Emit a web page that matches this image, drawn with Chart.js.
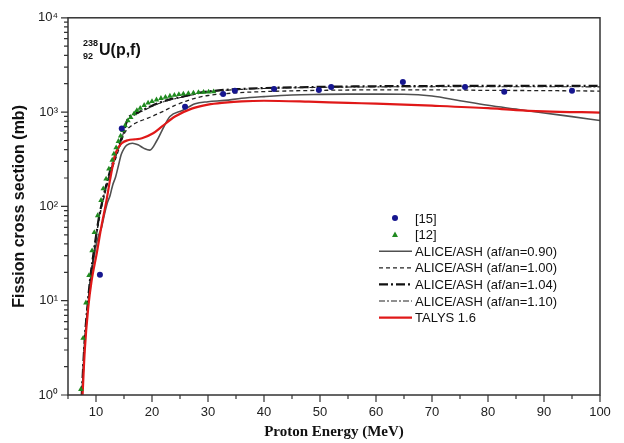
<!DOCTYPE html>
<html>
<head>
<meta charset="utf-8">
<script src="https://cdn.jsdelivr.net/npm/chart.js@4.4.1/dist/chart.umd.min.js"></script>
<style>
  html, body { margin: 0; padding: 0; background: #fff; }
  #wrap { width: 624px; height: 443px; }
</style>
</head>
<body>
<div id="wrap"><canvas id="fission-chart" width="624" height="443"></canvas></div>
<script>
// experimental points, [15]
const exp15Energy = [10.7, 14.6, 25.9, 32.7, 34.8, 41.8, 49.8, 52.0, 64.8, 75.9, 82.9, 95.0];
const exp15Sigma = [18.9, 670, 1140, 1560, 1680, 1760, 1720, 1850, 2080, 1850, 1640, 1680];

// experimental points, [12]
const exp12Energy = [7.3, 7.7, 8.2, 8.75, 9.3, 9.7, 10.3, 10.9, 11.3, 11.8, 12.3, 12.9, 13.2, 13.6, 14.0, 14.4, 14.8, 15.2, 15.7, 16.2, 16.8, 17.3, 17.9, 18.6, 19.3, 20.0, 20.8, 21.6, 22.4, 23.2, 24.0, 24.8, 25.6, 26.5, 27.4, 28.3, 29.2, 30.1, 31.0];
const exp12Sigma = [1.15, 4.0, 9.5, 18.5, 34, 53, 80, 116, 154, 196, 250, 310, 360, 420, 490, 560, 640, 720, 810, 880, 960, 1040, 1100, 1180, 1250, 1300, 1350, 1400, 1440, 1480, 1510, 1540, 1560, 1580, 1600, 1620, 1630, 1640, 1650];

// ALICE/ASH af/an = 0.90
const alice090Energy = [7.5, 8, 8.5, 9, 9.5, 10, 10.5, 11, 11.5, 12, 12.5, 13, 13.5, 14, 14.5, 15, 15.5, 16.5, 17.5, 18.5, 19.6, 20.9, 21.8, 23.2, 25.4, 27.7, 30, 33, 36, 40, 45, 50, 55, 60, 65, 70, 75, 80, 85, 90, 95, 100];
const alice090Sigma = [1.0, 3.5, 8, 15, 25, 38, 50, 60, 82, 108, 130, 170, 205, 270, 355, 410, 446, 468, 450, 415, 395, 503, 640, 897, 1038, 1228, 1290, 1330, 1400, 1460, 1520, 1540, 1550, 1550, 1545, 1480, 1320, 1180, 1075, 980, 895, 815];

// ALICE/ASH af/an = 1.00
const alice100Energy = [7.5, 8, 8.5, 9, 9.5, 10, 10.5, 11, 11.5, 12, 12.5, 13, 13.5, 14, 14.5, 15, 16.5, 18.5, 20, 22, 24, 26, 28, 30, 35, 40, 50, 60, 70, 80, 90, 100];
const alice100Sigma = [1.0, 3.8, 8.5, 16, 28, 46, 70, 98, 130, 170, 215, 265, 320, 390, 480, 585, 730, 830, 900, 1020, 1170, 1300, 1420, 1500, 1600, 1650, 1700, 1720, 1720, 1700, 1690, 1670];

// ALICE/ASH af/an = 1.04
const alice104Energy = [7.45, 8, 8.5, 9, 9.5, 10, 10.5, 11, 11.5, 12, 12.5, 13, 13.5, 14, 14.5, 15, 15.7, 17, 18.2, 20, 21.8, 23.5, 25.4, 27.5, 29.5, 33, 36, 40, 50, 60, 70, 80, 90, 100];
const alice104Sigma = [1.0, 4, 9, 18, 30, 48, 75, 105, 140, 185, 235, 290, 350, 420, 520, 640, 853, 960, 1038, 1170, 1288, 1380, 1453, 1560, 1640, 1721, 1760, 1800, 1850, 1880, 1890, 1900, 1900, 1900];

// ALICE/ASH af/an = 1.10
const alice110Energy = [7.45, 8, 8.5, 9, 9.5, 10, 10.5, 11, 11.5, 12, 12.5, 13, 13.5, 14, 14.5, 15, 15.7, 17, 18.2, 20, 21.8, 23.5, 25.4, 27.5, 29.5, 33, 36, 40, 50, 60, 70, 80, 90, 100];
const alice110Sigma = [1.0, 4, 9, 17.5, 29, 47, 73, 103, 138, 182, 232, 285, 345, 415, 510, 625, 830, 940, 1020, 1150, 1270, 1360, 1440, 1540, 1620, 1700, 1740, 1780, 1830, 1850, 1860, 1860, 1860, 1850];

// TALYS 1.6
const talysEnergy = [7.6, 8, 8.6, 9.2, 10.1, 11, 11.9, 12.5, 13.4, 14, 14.6, 15.7, 17, 18.2, 20.2, 21.8, 24.1, 27.1, 30, 33, 36, 40, 48, 55, 60, 70, 80, 85, 90, 100];
const talysSigma = [1.0, 3.0, 8.3, 16, 31, 63, 118, 190, 350, 420, 468, 503, 515, 528, 596, 705, 897, 1088, 1199, 1259, 1300, 1320, 1290, 1250, 1230, 1170, 1100, 1050, 1020, 988];

const legendLabels = ['[15]', '[12]', 'ALICE/ASH (af/an=0.90)', 'ALICE/ASH (af/an=1.00)', 'ALICE/ASH (af/an=1.04)', 'ALICE/ASH (af/an=1.10)', 'TALYS 1.6'];
const yTickLabels = { 1: '10\u2070', 10: '10\u00b9', 100: '10\u00b2', 1000: '10\u00b3', 10000: '10\u2074' };

const pairs = (xs, ys) => xs.map((x, i) => ({ x, y: ys[i] }));

function lineSet(label, xs, ys, color, width, dash, order) {
  return {
    label,
    data: pairs(xs, ys),
    showLine: true,
    borderColor: color,
    backgroundColor: color,
    borderWidth: width,
    borderDash: dash,
    pointRadius: 0,
    cubicInterpolationMode: 'monotone',
    order
  };
}

// ticks, frame, legend and the nuclide label
const decorPlugin = {
  id: 'decor',
  afterDraw(chart) {
    const { ctx, chartArea: a, scales } = chart;
    const xs = scales.x, ys = scales.y;
    ctx.save();
    ctx.strokeStyle = '#333';
    ctx.lineWidth = 1.5;
    ctx.strokeRect(a.left, a.top, a.right - a.left, a.bottom - a.top);

    ctx.lineWidth = 1.2;
    ctx.beginPath();
    for (let d = 0; d < 4; d++) {
      for (let m = 1; m <= 9; m++) {
        const py = ys.getPixelForValue(m * Math.pow(10, d));
        const len = m === 1 ? 7 : 4;
        ctx.moveTo(a.left, py);
        ctx.lineTo(a.left - len, py);
      }
    }
    const top = ys.getPixelForValue(10000);
    ctx.moveTo(a.left, top);
    ctx.lineTo(a.left - 7, top);
    for (let v = 5; v <= 100; v += 5) {
      const px = xs.getPixelForValue(v);
      const len = v % 10 === 0 ? 7 : 4;
      ctx.moveTo(px, a.bottom);
      ctx.lineTo(px, a.bottom + len);
    }
    ctx.stroke();

    // legend
    const lx = 379, tx = 415, ly0 = 218, step = 16.6;
    ctx.font = '13px "Liberation Sans", Arial, sans-serif';
    ctx.textBaseline = 'middle';
    ctx.textAlign = 'left';
    chart.data.datasets.forEach((ds, i) => {
      const y = ly0 + i * step;
      if (ds.showLine) {
        ctx.strokeStyle = ds.borderColor;
        ctx.lineWidth = ds.borderWidth;
        ctx.setLineDash(ds.borderDash || []);
        ctx.beginPath();
        ctx.moveTo(lx, y);
        ctx.lineTo(lx + 33, y);
        ctx.stroke();
        ctx.setLineDash([]);
      } else {
        ctx.fillStyle = ds.backgroundColor;
        ctx.beginPath();
        if (ds.pointStyle === 'triangle') {
          ctx.moveTo(395, y - 3);
          ctx.lineTo(398, y + 2.5);
          ctx.lineTo(392, y + 2.5);
          ctx.closePath();
        } else {
          ctx.arc(395, y, 3, 0, Math.PI * 2);
        }
        ctx.fill();
      }
      ctx.fillStyle = '#111';
      ctx.fillText(legendLabels[i], tx, y + 1);
    });

    // nuclide label
    ctx.fillStyle = '#111';
    ctx.textBaseline = 'alphabetic';
    ctx.font = 'bold 9px "Liberation Sans", Arial, sans-serif';
    ctx.fillText('238', 83, 46);
    ctx.fillText('92', 83, 59);
    ctx.font = 'bold 16px "Liberation Sans", Arial, sans-serif';
    ctx.fillText('U(p,f)', 99, 55);
    ctx.restore();
  }
};

new Chart(document.getElementById('fission-chart'), {
  type: 'scatter',
  data: {
    datasets: [
      {
        label: legendLabels[0],
        data: pairs(exp15Energy, exp15Sigma),
        pointStyle: 'circle',
        pointRadius: 3,
        backgroundColor: '#16168f',
        borderColor: '#16168f',
        borderWidth: 0,
        order: 0
      },
      {
        label: legendLabels[1],
        data: pairs(exp12Energy, exp12Sigma),
        pointStyle: 'triangle',
        pointRadius: 3.2,
        backgroundColor: '#1f8a1f',
        borderColor: '#1f8a1f',
        borderWidth: 0,
        order: 1
      },
      lineSet(legendLabels[2], alice090Energy, alice090Sigma, '#505050', 1.6, [], 6),
      lineSet(legendLabels[3], alice100Energy, alice100Sigma, '#222', 1.3, [4, 3], 5),
      lineSet(legendLabels[4], alice104Energy, alice104Sigma, '#111', 2.2, [9, 3, 2, 3], 4),
      lineSet(legendLabels[5], alice110Energy, alice110Sigma, '#222', 1.1, [6, 2, 2, 2], 3),
      lineSet(legendLabels[6], talysEnergy, talysSigma, '#e01818', 2.2, [], 2)
    ]
  },
  options: {
    responsive: false,
    animation: false,
    layout: { padding: { top: 13, right: 24, left: 0, bottom: 0 } },
    plugins: {
      legend: { display: false },
      tooltip: { enabled: false }
    },
    scales: {
      x: {
        type: 'linear',
        min: 5,
        max: 100,
        afterFit: s => { s.height = 48; },
        grid: { display: false, drawTicks: false },
        border: { display: false },
        ticks: {
          stepSize: 5,
          padding: 10,
          color: '#222',
          font: { family: '"Liberation Sans", Arial, sans-serif', size: 13 },
          callback: v => (v % 10 === 0 ? String(v) : '')
        },
        title: {
          display: true,
          text: 'Proton Energy (MeV)',
          color: '#111',
          padding: { top: 0, bottom: 2 },
          font: { family: '"Liberation Serif", "Times New Roman", serif', size: 15, weight: 'bold' }
        }
      },
      y: {
        type: 'logarithmic',
        min: 1,
        max: 10000,
        afterFit: s => { s.width = 68; },
        grid: { display: false, drawTicks: false },
        border: { display: false },
        ticks: {
          autoSkip: false,
          padding: 10,
          color: '#222',
          font: { family: '"Liberation Sans", Arial, sans-serif', size: 13 },
          callback: v => yTickLabels[v] || ''
        },
        title: {
          display: true,
          text: 'Fission cross section (mb)',
          color: '#111',
          padding: { top: 10, bottom: 0 },
          font: { family: '"Liberation Sans", Arial, sans-serif', size: 16, weight: 'bold' }
        }
      }
    }
  },
  plugins: [decorPlugin]
});
</script>
</body>
</html>
